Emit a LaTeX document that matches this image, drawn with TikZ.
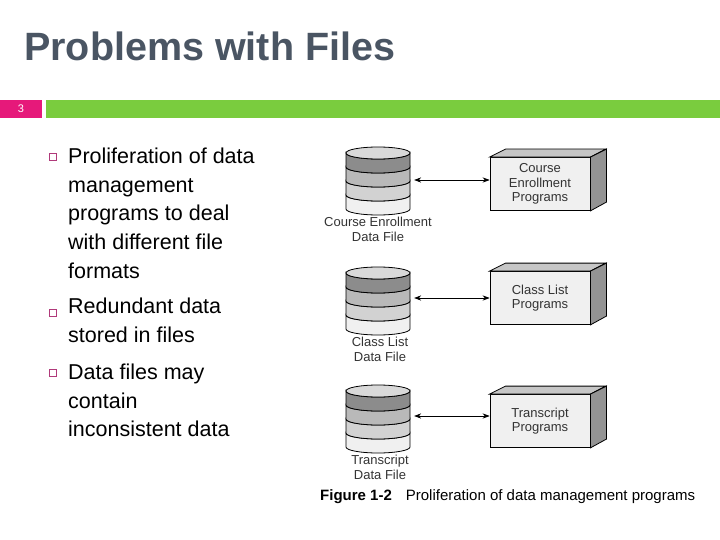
\documentclass[tikz,border=0pt]{standalone}
\usepackage{fontspec}
\setmainfont{Liberation Sans}
\usetikzlibrary{arrows.meta, positioning}
\definecolor{titlegray}{HTML}{4A5563}
\definecolor{barpink}{HTML}{E6197A}
\definecolor{bargreen}{HTML}{7ACC3E}
\definecolor{bulletpink}{HTML}{B03A7A}

% stacked data file drawn at (x,y) = top centre
\newcommand{\datastack}[2]{%
  \foreach \i/\c in {3/gray!12, 2/gray!35, 1/gray!55, 0/gray!90} {
    \filldraw[fill=\c, draw=black, line width=0.8pt]
      (#1-32, #2+14*\i) -- (#1-32, #2+14*\i+14)
      arc[start angle=180, end angle=0, x radius=32, y radius=6]
      -- (#1+32, #2+14*\i)
      arc[start angle=0, end angle=180, x radius=32, y radius=6] -- cycle;
  }
  \filldraw[fill=gray!30, draw=black, line width=0.8pt] (#1, #2) ellipse[x radius=32, y radius=6];
}

\begin{document}
\begin{tikzpicture}[
    x=1pt, y=-1pt,
    every node/.style={inner sep=0pt},
    body/.style={anchor=north west, align=left, font=\fontsize{21.5}{28.6}\selectfont},
    bullet/.style={draw=bulletpink, line width=0.8pt, minimum size=6.5pt, anchor=center},
    lbl/.style={font=\fontsize{13}{14.5}\selectfont, text=black!80, align=center, anchor=north},
    prog/.style={draw=black, fill=gray!12, line width=0.8pt, minimum width=100pt, minimum height=53pt, align=center, font=\fontsize{13}{14.5}\selectfont, text=black!80},
    dbase/.style={minimum width=64pt, minimum height=62pt},
    arrow/.style={{Stealth[length=7pt]}-{Stealth[length=7pt]}, line width=0.6pt}
  ]
  \useasboundingbox (0,0) rectangle (720,540);

  % Title and bars
  \node (title) [anchor=west, font=\fontsize{39.5}{42}\selectfont\bfseries, text=titlegray] at (24,46) {Problems with Files};
  \fill[barpink] (0,100) rectangle (42,118);
  \node (num) [text=white, font=\fontsize{11}{12}\selectfont] at (21,109) {3};
  \fill[bargreen] (46,100) rectangle (720,118);

  % Bullets
  \node (b1) [bullet] at (53,157) {};
  \node (t1) [body] at (68,148) {Proliferation of data\\management\\programs to deal\\with different file\\formats};
  \node (b2) [bullet] at (53,313) {};
  \node (t2) [body] at (68,298) {Redundant data\\stored in files};
  \node (b3) [bullet] at (53,373) {};
  \node (t3) [body] at (68,364) {Data files may\\contain\\inconsistent data};

  % Data files
  \datastack{378}{153}
  \node (db1) [dbase] at (378,180) {};
  \node (l1) [lbl] at (378,217) {Course Enrollment\\Data File};
  \datastack{378}{273}
  \node (db2) [dbase] at (378,298) {};
  \node (l2) [lbl] at (380,337) {Class List\\Data File};
  \datastack{378}{391}
  \node (db3) [dbase] at (378,416) {};
  \node (l3) [lbl] at (380,455) {Transcript\\Data File};

  % Programs
  \foreach \n/\y/\t in {p1/184/Course\\Enrollment\\Programs, p2/298/Class List\\Programs, p3/421/Transcript\\Programs} {
    \node (\n) [prog] at (540,\y) {\t};
    \filldraw[fill=gray!45, draw=black, line width=0.8pt] (\n.north west) -- ++(16,-8) -- ++(100,0) -- (\n.north east) -- cycle;
    \filldraw[fill=gray!85, draw=black, line width=0.8pt] (\n.north east) -- ++(16,-8) -- ++(0,53) -- (\n.south east) -- cycle;
  }

  % Arrows
  \draw[arrow] (db1.east) ++(4,0) coordinate (a1) (a1) -- (p1.west |- a1);
  \draw[arrow] (db2.east) ++(4,0) coordinate (a2) (a2) -- (p2.west |- a2);
  \draw[arrow] (db3.east) ++(4,0) coordinate (a3) (a3) -- (p3.west |- a3);

  % Caption
  \node (cap) [anchor=west, font=\fontsize{15}{16}\selectfont] at (320,497) {\textbf{Figure 1-2}\hspace{14pt}Proliferation of data management programs};
\end{tikzpicture}
\end{document}
